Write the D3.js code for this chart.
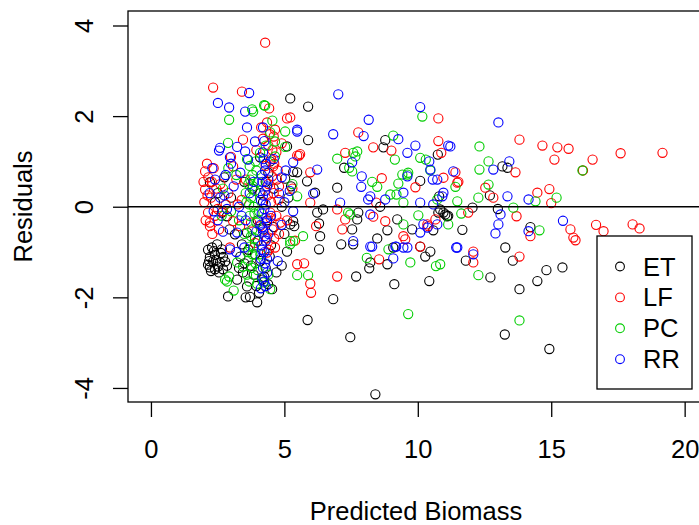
<!DOCTYPE html>
<html>
<head>
<meta charset="utf-8">
<script src="https://cdn.jsdelivr.net/npm/d3@7"></script>
<style>
body { margin: 0; background: #fff; }
text { font-family: "Liberation Sans", Arial, sans-serif; }
</style>
</head>
<body>
<div id="chart-area"></div>
<script>
// residuals vs predicted biomass, one list of [predicted, residual] per site
let groups = ["ET", "LF", "PC", "RR"];
let colors = ["#000000", "#ff0000", "#00cd00", "#0000ff"];
let xTicks = [0, 5, 10, 15, 20];
let yTicks = [-4, -2, 0, 2, 4];

let ET = [
  [2.14,-0.95],[2.29,-0.90],[2.48,-0.83],[2.66,-0.94],[2.21,-1.11],[2.40,-1.06],[2.70,-1.11],[2.14,-1.28],
  [2.33,-1.21],[2.59,-1.23],[2.70,-1.38],[2.40,-1.38],[2.21,-1.34],[2.51,-1.32],[2.78,-1.21],[2.25,-1.42],
  [2.55,-1.45],[2.36,-0.98],[2.62,-1.02],[2.44,-1.18],[2.85,-1.30],[2.18,-1.20],
  [3.23,-1.61],[2.89,-1.98],[3.71,-1.99],[3.98,-2.11],[3.60,-1.76],[3.15,-0.61],[3.60,-0.57],[3.41,-0.83],
  [3.30,-1.35],[3.50,-1.25],[3.45,-1.45],[3.75,-1.30],[3.85,-1.50],[3.90,-1.05],
  [4.17,-1.61],[4.39,-1.71],[4.54,-1.82],[4.10,-1.20],[4.30,-1.35],[4.45,-1.10],[4.00,-0.75],[4.20,-0.50],
  [4.35,-0.30],[4.50,-0.85],[4.10,0.30],[4.30,0.55],[4.09,1.09],[4.47,1.00],[4.20,0.10],
  [5.10,-0.99],[5.22,-0.39],[5.33,-0.32],[5.00,-0.60],[4.90,-1.30],[5.15,0.20],[5.33,0.77],[5.03,0.62],
  [5.10,1.33],[5.48,0.76],[5.22,2.39],
  [2.21,0.54],[2.66,-0.13],[2.85,-0.21],[2.50,0.30],[2.75,0.65],[3.00,0.20],[2.40,0.10],
  [3.95,-1.75],[4.05,-1.90],[3.55,-2.00],[4.25,-1.55],[3.35,-1.10],[3.65,-0.95],[4.00,-0.30],[3.80,0.40],
  [4.40,0.75],[4.60,0.40],[4.70,-1.45],[4.60,-0.45],[5.25,0.45],[4.90,0.00],[3.50,0.55],[2.95,-0.50],
  [8.41,-4.14],[14.93,-3.14],[13.26,-2.82],[7.47,-2.88],[5.87,-2.50],[6.83,-2.04],[13.81,-1.82],[14.48,-1.64],
  [14.82,-1.40],[15.42,-1.34],[13.56,-1.19],[12.72,-1.56],[11.80,-1.19],[13.28,-0.90],[11.67,-0.51],[14.22,-0.45],
  [7.69,-1.54],[9.12,-1.71],[10.43,-1.64],[6.30,-0.94],[6.34,-0.65],[6.30,-0.37],[6.23,-0.13],[6.45,-0.06],
  [7.13,-0.83],[7.58,-0.83],[8.18,-1.36],[8.22,-1.23],[8.86,-1.27],[8.48,-0.70],[8.86,-0.52],[10.47,-0.99],
  [10.28,-1.10],[10.58,-0.52],[10.77,-0.13],[7.77,-0.13],[9.08,-0.90],[5.37,-0.43],[5.89,2.21],[5.89,1.47],
  [7.24,0.86],[6.98,0.42],[8.78,1.47],[8.71,1.31],[10.09,0.57],[10.75,1.15],[10.80,0.23],[5.85,0.56],
  [6.15,0.31],[7.54,-0.50],[7.73,-0.28],[8.59,0.00],[9.23,-0.28],[10.09,-0.88],[9.79,-0.50],[10.96,-0.13],
  [11.10,-0.21],[13.17,0.89],[13.36,0.86],[12.70,0.25],[13.00,-0.05],[12.05,-0.02],[11.03,-0.17],[11.14,-0.20],
  [10.84,-0.06]
];

let LF = [
  [2.03,0.78],[2.03,0.38],[2.14,-0.13],[2.21,-0.43],[2.21,-0.35],[1.97,0.55],[2.10,0.95],[2.00,0.10],
  [2.30,-0.60],[2.25,0.20],[2.15,0.65],[2.35,0.85],[2.05,-0.30],[2.40,-0.20],
  [2.33,2.63],[3.41,2.54],[4.43,2.17],[5.10,1.95],[4.35,1.86],[4.13,1.75],[5.48,1.13],[3.45,1.48],
  [3.08,0.89],[4.58,0.89],[4.54,0.67],[5.55,1.13],[5.22,1.97],
  [2.70,-0.10],[3.08,-0.32],[3.34,-0.43],[2.96,-0.90],[2.60,0.50],[2.90,0.30],[3.20,0.60],[2.80,0.05],
  [3.40,0.15],[2.55,-0.50],[3.00,1.10],
  [4.35,-1.01],[4.65,-0.90],[4.09,-0.43],[4.47,-0.13],[4.60,1.55],[4.40,1.35],[4.70,1.20],[4.50,1.05],
  [4.75,0.80],[4.40,0.50],[4.60,0.30],[4.80,0.45],[4.50,0.10],[4.70,-0.20],[4.55,-0.50],[4.35,-0.70],
  [4.80,-0.60],[4.30,0.90],[4.65,1.70],[4.90,1.40],[4.20,1.50],
  [4.45,1.60],[4.55,1.25],[4.62,0.95],[4.38,0.25],[4.72,0.60],[4.48,-0.25],[4.62,-0.70],[4.42,-0.95],
  [4.78,0.15],[4.85,-0.35],[3.55,0.60],[3.75,-0.35],[3.95,1.25],[3.25,0.05],[2.45,0.40],[2.28,0.55],
  [2.12,0.25],[2.50,-0.05],[3.90,-0.80],
  [5.48,-1.27],[5.74,-1.25],[5.97,-1.70],[6.00,-1.90],[5.97,0.76],[5.59,1.16],[5.97,0.09],[6.19,-0.43],
  [5.30,0.40],[5.10,-0.30],[5.40,-0.75],
  [4.28,3.62],[7.77,1.64],[8.33,1.31],[9.01,1.24],[8.65,0.63],[9.91,0.43],[10.77,1.95],[10.77,1.45],
  [10.88,1.19],[11.48,0.53],[11.89,-0.13],[7.28,1.19],[6.98,-0.06],[7.17,-0.50],[8.33,-0.22],[8.44,0.09],
  [8.78,-0.32],[9.46,-0.65],[10.39,-0.43],[10.66,-0.28],[13.81,1.48],[14.67,1.35],[15.23,1.31],[15.65,1.28],
  [15.12,1.04],[16.55,1.04],[16.19,0.80],[13.66,0.76],[11.41,0.76],[11.52,0.55],[12.53,0.42],[12.83,0.20],
  [14.48,0.31],[14.93,0.39],[15.00,0.08],[13.70,-0.21],[17.60,1.18],[19.17,1.19],[15.72,-0.50],[15.83,-0.68],
  [15.91,-0.74],[16.68,-0.40],[16.96,-0.54],[18.05,-0.39],[18.31,-0.48],[12.08,-0.99],[12.08,-1.23],[13.81,-1.10],
  [14.22,-0.65],[6.98,-1.54],[7.28,-0.28],[8.55,-1.16],[9.53,-0.72],[10.09,-0.88],[10.36,-0.39],[10.96,0.64]
];

let PC = [
  [2.93,1.92],[2.89,1.41],[4.24,2.24],[3.83,2.10],[3.79,2.15],[4.28,2.23],[5.03,1.66],[4.47,1.64],
  [4.65,1.44],[4.65,1.11],[4.09,1.19],[5.03,1.32],
  [3.70,0.90],[3.80,0.70],[3.65,0.50],[3.90,0.35],[3.75,0.20],[3.85,0.00],[3.70,-0.20],[3.95,-0.35],
  [3.80,-0.50],[3.71,-0.88],[3.90,-0.70],[3.64,-1.19],[3.45,-1.32],[3.23,-1.23],[3.80,-1.05],[4.00,-1.40],
  [3.60,-1.50],[4.00,0.55],[3.95,0.80],[4.05,-0.10],[3.55,0.30],[3.50,-0.60],
  [3.72,0.60],[3.82,0.45],[3.68,0.05],[3.88,-0.15],[3.75,-0.65],[3.85,-0.90],[3.62,-1.00],[3.92,-1.25],
  [3.78,-1.35],[3.68,-1.65],[3.98,-1.70],[4.10,-1.05],[3.58,0.10],[3.92,1.00],[3.60,1.05],[4.30,1.35],
  [4.55,1.90],[2.65,-0.20],[3.30,-0.30],
  [2.78,-1.61],[2.93,-1.54],[2.85,-1.65],[4.47,-1.82],[4.20,-1.67],[5.22,-0.76],[4.40,-1.50],[3.10,-1.85],
  [3.20,0.70],[2.70,0.40],[3.00,-0.10],[2.90,0.85],[5.48,0.23],[5.30,0.50],
  [6.98,1.06],[7.58,1.19],[7.73,1.22],[7.66,1.11],[7.54,0.78],[9.08,1.57],[9.14,1.04],[9.42,0.71],
  [9.64,0.75],[10.17,1.99],[10.09,1.08],[10.30,1.04],[9.27,0.51],[8.48,0.44],[8.29,0.55],[7.43,0.86],
  [7.39,-0.13],[10.73,0.16],[11.48,0.12],[5.70,-0.65],[5.22,-0.83],[8.09,-1.13],[8.90,-0.94],[9.72,-1.23],
  [10.68,-1.31],[10.47,0.80],[8.97,0.27],[9.20,0.27],[9.46,0.09],[9.61,0.71],[5.48,-1.51],[5.89,-1.51],
  [5.33,-0.76],[9.64,-2.37],[9.46,-0.39],[10.02,-0.19],[7.47,-0.17],[12.31,1.33],[12.65,1.00],[12.31,0.82],
  [11.41,0.44],[12.65,0.49],[12.27,0.20],[14.41,0.12],[15.20,0.20],[16.17,0.80],[13.58,-0.02],[11.63,-0.15],
  [12.27,-1.51],[13.81,-2.51],[14.56,-0.52],[11.14,-0.39],[10.84,-1.27]
];

let RR = [
  [2.51,2.29],[2.93,2.19],[3.68,2.51],[3.53,2.10],[3.60,1.75],[3.90,1.44],[2.55,1.24],[3.23,1.32],
  [2.96,1.09],[3.64,1.04],[4.20,1.75],[5.48,1.66],[5.33,0.98],[3.53,1.22],[2.59,1.30],[5.48,1.70],
  [4.20,1.20],[4.30,0.95],[4.15,0.70],[4.35,0.45],[4.20,0.25],[4.30,0.05],[4.15,-0.15],[4.35,-0.35],
  [4.20,-0.55],[4.30,-0.75],[4.15,-0.95],[4.35,-1.15],[4.20,-1.35],[4.17,-1.56],[4.30,-1.75],[4.25,1.45],
  [4.40,0.60],[4.10,-0.40],[4.40,-0.60],[4.25,-1.00],
  [4.22,1.05],[4.28,0.80],[4.18,0.55],[4.28,0.35],[4.12,0.15],[4.25,-0.05],[4.32,-0.25],[4.18,-0.45],
  [4.26,-0.65],[4.14,-0.85],[4.28,-1.25],[4.12,-1.15],[4.36,-1.45],[4.24,-1.65],[4.12,-1.80],[3.85,0.55],
  [3.55,-0.30],[3.70,0.30],[4.50,-0.20],[3.95,-0.55],[4.60,1.05],[2.75,0.25],[2.35,-0.10],
  [2.96,-0.94],[3.23,-0.57],[2.40,0.60],[2.60,0.20],[2.80,0.70],[3.10,0.45],[3.30,0.00],[2.50,-0.30],
  [2.70,-0.55],[3.40,-0.20],[2.30,0.85],[3.00,0.95],[2.20,0.30],[3.35,0.75],[2.85,-0.05],[3.50,-0.90],
  [3.20,-1.00],
  [5.33,-0.10],[4.80,0.30],[5.00,0.10],[4.90,-0.40],[5.20,0.35],[4.75,-1.20],[5.05,0.80],[4.90,0.65],
  [7.02,2.48],[8.16,1.92],[6.83,1.60],[7.97,1.56],[6.23,0.82],[6.08,0.29],[7.54,0.98],[7.90,0.67],
  [9.27,1.49],[9.61,1.19],[9.91,1.35],[10.09,2.20],[10.43,1.00],[10.56,0.60],[10.73,0.60],[11.22,1.33],
  [11.33,0.78],[9.46,0.31],[8.78,0.16],[8.14,0.16],[7.09,0.09],[8.29,-0.88],[9.16,-0.88],[9.46,-0.90],
  [10.36,-0.46],[11.48,-0.90],[10.47,0.82],[10.96,0.31],[7.88,0.44],[8.22,0.23],[9.61,0.67],[13.02,1.86],
  [11.14,1.35],[13.43,1.00],[12.83,0.82],[13.36,0.23],[14.15,0.16],[10.92,0.23],[13.10,-0.17],[15.44,-0.31],
  [13.02,-0.39],[12.91,-0.59],[14.15,-0.54],[11.44,-0.90],[12.08,-1.05],[8.22,-0.17],[7.58,-0.76],[8.22,-0.88],
  [9.19,-0.88],[9.61,-0.90],[9.08,-1.14],[10.21,-0.39],[10.73,-0.39],[10.09,-0.57],[10.09,0.09],[10.58,0.05]
];

let series = [ET, LF, PC, RR];

let margin = {left: 128, top: 11};
let width = 578;
let height = 391;

let svg = d3.select("#chart-area")
    .append("svg")
    .attr("width", 699)
    .attr("height", 525);

let g = svg.append("g")
    .attr("transform", "translate(" + margin.left + "," + margin.top + ")");

let x = d3.scaleLinear().domain([-0.86, 20.8]).range([0, width]);
let y = d3.scaleLinear().domain([-4.31, 4.32]).range([height, 0]);

svg.append("clipPath").attr("id", "plotclip")
  .append("rect").attr("width", width).attr("height", height);

// points
let pts = g.append("g").attr("clip-path", "url(#plotclip)");
series.forEach(function(s, i) {
  pts.selectAll(".p" + i)
    .data(s)
    .enter()
    .append("circle")
    .attr("cx", function(d) { return x(d[0]); })
    .attr("cy", function(d) { return y(d[1]); })
    .attr("r", 4.6)
    .attr("fill", "none")
    .attr("stroke", colors[i])
    .attr("stroke-width", 1.1);
});

// zero line
g.append("line")
  .attr("x1", 0).attr("x2", width)
  .attr("y1", y(0)).attr("y2", y(0))
  .attr("stroke", "#000").attr("stroke-width", 1.3);

// box
g.append("rect")
  .attr("width", width).attr("height", height)
  .attr("fill", "none").attr("stroke", "#000").attr("stroke-width", 1.3);

// axes (plain hyphen for negatives, like R)
let xAxis = d3.axisBottom(x).tickValues(xTicks).tickSize(15).tickSizeOuter(0)
  .tickFormat(function(d) { return String(d); });
let gx = g.append("g")
  .attr("transform", "translate(0," + height + ")")
  .call(xAxis);
gx.select(".domain").remove();
gx.selectAll("line").attr("stroke", "#000").attr("stroke-width", 1.3);
gx.selectAll("text")
  .attr("y", 56).attr("dy", 0)
  .attr("font-size", "25.5px")
  .attr("font-family", "Liberation Sans, Arial, sans-serif")
  .attr("fill", "#000");

let yAxis = d3.axisLeft(y).tickValues(yTicks).tickSize(15).tickSizeOuter(0)
  .tickFormat(function(d) { return String(d); });
let gy = g.append("g").call(yAxis);
gy.select(".domain").remove();
gy.selectAll("line").attr("stroke", "#000").attr("stroke-width", 1.3);
gy.selectAll("text")
  .attr("x", 0).attr("dy", 0)
  .attr("text-anchor", "middle")
  .attr("transform", "translate(-35,0) rotate(-90)")
  .attr("font-size", "25.5px")
  .attr("font-family", "Liberation Sans, Arial, sans-serif")
  .attr("fill", "#000");

// axis labels
svg.append("text")
  .attr("x", margin.left + width / 2 - 1)
  .attr("y", 520)
  .attr("font-size", "25.5px")
  .attr("text-anchor", "middle")
  .text("Predicted Biomass");

svg.append("text")
  .attr("transform", "translate(32," + (margin.top + height / 2) + ") rotate(-90)")
  .attr("font-size", "25.5px")
  .attr("text-anchor", "middle")
  .text("Residuals");

// legend
let legend = svg.append("g").attr("transform", "translate(597,236)");
legend.append("rect")
  .attr("width", 95).attr("height", 153)
  .attr("fill", "#fff").attr("stroke", "#000").attr("stroke-width", 1.3);
groups.forEach(function(name, i) {
  let row = legend.append("g").attr("transform", "translate(0," + (30.5 + i * 30.9) + ")");
  row.append("circle")
    .attr("cx", 23).attr("cy", 0).attr("r", 4.4)
    .attr("fill", "none").attr("stroke", colors[i]).attr("stroke-width", 1.1);
  row.append("text")
    .attr("x", 46).attr("y", 9)
    .attr("font-size", "25.5px")
    .text(name);
});
</script>
</body>
</html>
